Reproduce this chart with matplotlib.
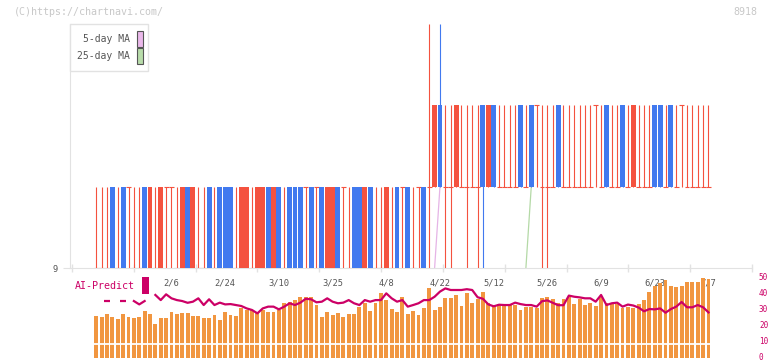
import matplotlib
matplotlib.use('Agg')
import matplotlib.pyplot as plt
from matplotlib.patches import Rectangle
import matplotlib.transforms as mtransforms
import numpy as np

W, H = 772, 361
MONO = 'DejaVu Sans Mono'
RED = '#f4523f'
BLUE = '#4179ef'
ORANGE = '#f19640'
CRIMSON = '#cc0066'
AXIS = '#e2e2e2'

# ---- data ----
opens = [9, 9, 9, 10, 9, 10, 10, 9, 9, 10,
         9, 9, 9, 10, 10, 9, 9, 10, 9, 9,
         9, 10, 9, 10, 10, 10, 9, 9, 9, 9,
         9, 9, 10, 9, 10, 9, 10, 10, 10, 10,
         10, 10, 10, 9, 9, 10, 10, 9, 10, 10,
         9, 10, 9, 9, 9, 9, 10, 10, 10, 9,
         10, 10, 10, 10, 11, 10, 10, 10, 10, 10,
         10, 10, 11, 10, 11, 10, 10, 10, 10, 11,
         10, 11, 11, 10, 10, 10, 11, 10, 10, 10,
         10, 10, 10, 11, 10, 11, 10, 10, 11, 10,
         10, 10, 10, 10, 11, 11, 10, 11, 10, 11,
         10, 10, 10, 10, 10]
closes = [9, 9, 9, 9, 9, 9, 10, 9, 9, 9,
          10, 9, 10, 10, 10, 9, 10, 9, 10, 9,
          9, 9, 9, 9, 9, 9, 9, 10, 10, 9,
          10, 10, 9, 10, 9, 9, 9, 9, 9, 10,
          9, 10, 9, 10, 10, 9, 10, 9, 9, 9,
          10, 9, 9, 9, 10, 9, 9, 10, 9, 9,
          10, 9, 10, 11, 10, 10, 10, 11, 10, 10,
          10, 10, 10, 11, 10, 10, 10, 10, 10, 10,
          10, 10, 11, 10, 10, 10, 10, 10, 10, 10,
          10, 10, 10, 11, 10, 10, 10, 10, 10, 10,
          11, 10, 10, 10, 10, 10, 10, 10, 10, 11,
          10, 10, 10, 10, 10]
highs = [10] * 62 + [12, 11, 12] + [11] * 50
lows = ([9] * 63 + [10, 10, 9, 9, 10, 10, 9, 10, 9, 9]
        + [10] * 10 + [9, 9] + [10] * 30)

ma5 = [np.nan] * 63 + [9.0, 10.0] + [np.nan] * 50
ma25 = [np.nan] * 80 + [9.0, 10.0] + [np.nan] * 33

volume = [26.2, 25.6, 27.5, 25.6, 24.4, 27.5, 25.6, 25.0, 25.6, 29.4,
          27.5, 21.2, 25.0, 25.0, 28.7, 27.5, 28.1, 28.1, 26.2, 26.2,
          25.0, 25.0, 26.9, 23.7, 28.7, 26.9, 26.2, 31.2, 30.0, 30.0,
          28.0, 30.0, 29.0, 28.6, 30.0, 34.3, 35.2, 36.2, 38.3, 38.3,
          37.9, 33.1, 25.8, 28.9, 26.9, 27.9, 25.8, 27.5, 27.5, 32.1,
          34.6, 29.6, 34.3, 40.8, 36.2, 30.4, 28.9, 38.3, 27.5, 29.6,
          26.9, 31.0, 43.9, 30.0, 32.1, 37.3, 37.3, 39.4, 32.5, 40.8,
          34.6, 36.9, 41.5, 34.3, 33.1, 33.5, 33.5, 33.5, 33.1, 30.0,
          32.1, 32.1, 31.0, 37.3, 37.9, 36.7, 34.3, 36.7, 38.3, 33.7,
          36.7, 33.1, 34.3, 32.5, 38.3, 34.3, 34.6, 33.5, 31.5, 31.7,
          31.0, 33.5, 36.2, 41.0, 45.0, 46.7, 48.7, 45.0, 44.6, 45.0,
          47.3, 47.3, 47.7, 49.8, 49.4]

nan = np.nan
ai_predict = [nan, nan, 35.6, nan, nan, 35.6, nan, 35.6, 33.5, 35.6, nan,
              39.4, 36.2, 39.8, 37.3, 36.2, 35.6, 34.5, 35.2, 37.3,
              33.1, 36.7, 33.1, 34.6, 33.5, 33.7, 33.1, 32.5, 31.0, 30.0,
              27.9, 31.0, 32.1, 32.1, 30.4, 32.1, 34.2, 33.1, 34.6, 37.0,
              36.7, 34.8, 35.2, 37.3, 35.2, 34.2, 34.6, 36.2, 34.2, 33.1,
              36.2, 35.2, 36.2, 36.2, 40.4, 37.3, 35.2, 36.2, 32.1, 33.1,
              34.2, 36.2, 36.2, 38.3, 41.5, 43.5, 42.5, 42.5, 42.5, 43.0,
              42.5, 38.0, 37.0, 33.5, 32.3, 33.3, 33.1, 33.1, 34.6, 33.7,
              33.1, 33.1, 32.1, 35.5, 36.0, 34.5, 33.0, 33.0, 39.0, 38.3,
              37.9, 37.3, 37.3, 35.2, 39.4, 33.1, 34.2, 34.6, 32.1, 33.4,
              32.8, 31.5, 29.2, 30.6, 30.4, 31.0, 28.3, 30.6, 32.1, 35.0,
              31.7, 31.7, 33.1, 31.7, 28.5]

date_idx = [14, 24, 34, 44, 54, 64, 74, 84, 94, 104, 114]
date_labels = ['2/6', '2/24', '3/10', '3/25', '4/8', '4/22',
               '5/12', '5/26', '6/9', '6/23', '7/7']
ai_ticks = [0, 10, 20, 30, 40, 50]


def fx(px):
    return px / W


def fy(py):
    return 1 - py / H


o = np.array(opens, float)
c = np.array(closes, float)
hi = np.array(highs, float)
lo = np.array(lows, float)
x = np.arange(len(o))

# pixel layout of the price area
X0_PX, STEP_PX = 96.3, 5.37
xlim = ((70 - X0_PX) / STEP_PX, (752 - X0_PX) / STEP_PX)

fig = plt.figure(figsize=(W / 100, H / 100), dpi=100)

# ---------------- price panel ----------------
ax = fig.add_axes([fx(70), fy(268), fx(752) - fx(70), fy(0) - fy(268)])
ax.set_xlim(*xlim)
ax.set_ylim(9, 9 + 268 / 81.5)

ax.plot(x, ma5, color='#e6b4e6', lw=0.9, zorder=2)
ax.plot(x, ma25, color='#b4d9a6', lw=0.9, zorder=2)

col = np.where(c < o, BLUE, RED)
ax.vlines(x, lo, hi, colors=col, lw=0.8, zorder=3)
body = c != o
ax.bar(x[body], np.abs(c - o)[body], bottom=np.minimum(o, c)[body],
       width=0.92, color=col[body], zorder=4)
flat = ~body
ax.hlines(o[flat], x[flat] - 0.46, x[flat] + 0.46, colors=RED, lw=0.8, zorder=3)

for s in ['top', 'right']:
    ax.spines[s].set_visible(False)
ax.spines['left'].set_color(AXIS)
ax.spines['left'].set_bounds(9, 12)
ax.spines['bottom'].set_color(AXIS)
ax.set_yticks([9])
ax.set_yticklabels(['9'], fontfamily=MONO, fontsize=6.3, color='#555555')
ax.tick_params(axis='y', length=5, color=AXIS, pad=4)
ax.set_xticks(date_idx)
ax.set_xticklabels(date_labels, fontfamily=MONO, fontsize=6.3, color='#555555')
ax.tick_params(axis='x', which='major', length=0, pad=7.5)
ax.set_xticks(np.linspace(xlim[0] + 2 / STEP_PX, xlim[1], 12), minor=True)
ax.tick_params(axis='x', which='minor', direction='inout', length=6,
               color=AXIS, width=1)

# ---------------- AI-Predict / volume panel ----------------
vax = fig.add_axes([fx(70), fy(358), fx(752) - fx(70), fy(278) - fy(358)])
vax.patch.set_visible(False)
vax.set_xlim(*xlim)
vax.set_ylim(0, 50)
vax.bar(x, volume, width=0.72, color=ORANGE, zorder=1)
vax.axhline(8.6, color='white', lw=1.3, zorder=2)
ai = np.array(ai_predict, float)
vax.plot(x, ai, color=CRIMSON, lw=1.6, zorder=3)
prev_nan = np.isnan(np.r_[np.nan, ai[:-1]])
next_nan = np.isnan(np.r_[ai[1:], np.nan])
iso = ~np.isnan(ai) & prev_nan & next_nan
vax.plot(x[iso], ai[iso], ls='none', marker='_', ms=4, mew=1.6,
         color=CRIMSON, zorder=3)
for s in vax.spines.values():
    s.set_visible(False)
vax.set_xticks([])
vax.yaxis.tick_right()
vax.set_yticks(ai_ticks)
vax.set_yticklabels([str(t) for t in ai_ticks], fontfamily=MONO,
                    fontsize=5.5, color=CRIMSON)
vax.tick_params(axis='y', length=0, pad=5)
lift = mtransforms.ScaledTranslation(0, 1.5 / 100, fig.dpi_scale_trans)
for lab in vax.get_yticklabels():
    lab.set_transform(lab.get_transform() + lift)

# ---------------- decorations ----------------
fig.text(fx(14), fy(12), '(C)https://chartnavi.com/', fontfamily=MONO,
         fontsize=7.2, color='#c8c8c8', va='center', ha='left')
fig.text(fx(757), fy(12), '8918', fontfamily=MONO, fontsize=7.2,
         color='#c8c8c8', va='center', ha='right')

fig.add_artist(Rectangle((fx(70), fy(71)), fx(148) - fx(70), fy(24) - fy(71),
                         transform=fig.transFigure, facecolor='white',
                         edgecolor=AXIS, lw=1))
fig.text(fx(130), fy(39), '5-day MA', fontfamily=MONO, fontsize=7,
         color='#555555', va='center', ha='right')
fig.text(fx(130), fy(56), '25-day MA', fontfamily=MONO, fontsize=7,
         color='#555555', va='center', ha='right')
fig.add_artist(Rectangle((fx(137), fy(47)), fx(143) - fx(137), fy(31) - fy(47),
                         transform=fig.transFigure, facecolor='#eab8ea',
                         edgecolor='#555555', lw=0.8))
fig.add_artist(Rectangle((fx(137), fy(64)), fx(143) - fx(137), fy(48) - fy(64),
                         transform=fig.transFigure, facecolor='#b8dcaa',
                         edgecolor='#555555', lw=0.8))

fig.text(fx(75), fy(286), 'AI-Predict', fontfamily=MONO, fontsize=7.2,
         color=CRIMSON, va='center', ha='left')
fig.add_artist(Rectangle((fx(142), fy(294)), fx(149) - fx(142), fy(277) - fy(294),
                         transform=fig.transFigure, facecolor=CRIMSON,
                         edgecolor='none'))

fig.savefig('out.png', dpi=100)
